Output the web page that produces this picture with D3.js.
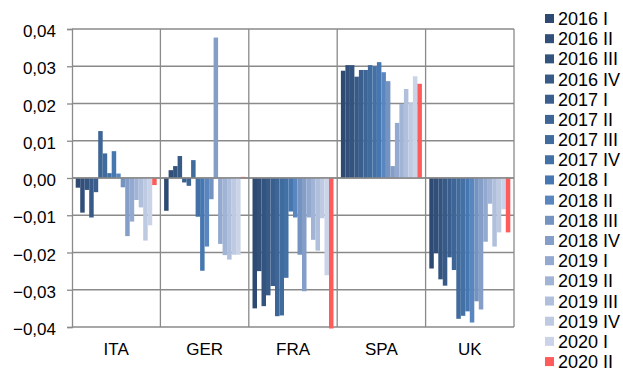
<!DOCTYPE html>
<html><head><meta charset="utf-8">
<script src="https://cdn.jsdelivr.net/npm/d3@7"></script>
<style>body{margin:0;background:#fff}svg{display:block}text{font-family:"Liberation Sans",Arial,sans-serif;fill:#000}</style>
</head><body><svg id="c" width="623" height="371"></svg>
<script>
const categories = ["ITA","GER","FRA","SPA","UK"];
const seriesNames = ["2016 I","2016 II","2016 III","2016 IV","2017 I","2017 II","2017 III","2017 IV","2018 I","2018 II","2018 III","2018 IV","2019 I","2019 II","2019 III","2019 IV","2020 I","2020 II"];
const seriesColors = ["#2e4a72","#314f79","#345480","#375a87","#3a5f8e","#3d6595","#406b9d","#4371a6","#4777b0","#5a86c0","#7593c1","#849ec8","#93a9cf","#a2b4d6","#b0bfdc","#bec9e2","#cbd3e8","#ff5b5b"];
const ITA = [-0.0026,-0.0093,-0.0032,-0.0106,-0.0038,0.0126,0.0066,0.0013,0.0072,0.0012,-0.0025,-0.0156,-0.0117,-0.0059,-0.0079,-0.0168,-0.0127,-0.0019];
const GER = [-0.0088,0.0021,0.0032,0.0059,-0.0012,-0.0021,0.0048,-0.0104,-0.0249,-0.0184,-0.0057,0.0377,-0.0177,-0.0207,-0.0219,-0.0206,-0.0206,0.0003];
const FRA = [-0.0350,-0.0250,-0.0344,-0.0315,-0.0290,-0.0371,-0.0369,-0.0268,-0.0090,-0.0106,-0.0206,-0.0304,-0.0106,-0.0166,-0.0195,-0.0108,-0.0261,-0.0404];
const SPA = [0.0288,0.0303,0.0303,0.0272,0.0290,0.0290,0.0303,0.0300,0.0311,0.0284,0.0260,0.0032,0.0148,0.0199,0.0239,0.0203,0.0273,0.0253];
const UK = [-0.0243,-0.0202,-0.0272,-0.0289,-0.0213,-0.0247,-0.0378,-0.0370,-0.0358,-0.0388,-0.0331,-0.0353,-0.0171,-0.0069,-0.0184,-0.0146,-0.0084,-0.0146];
const yTicks = [-0.04,-0.03,-0.02,-0.01,0,0.01,0.02,0.03,0.04];
const values = {ITA, GER, FRA, SPA, UK};

const svg = d3.select("#c");
const L = 72, R = 514, T = 29, B = 327;
const x0 = d3.scaleBand().domain(categories).range([L, R]).paddingInner(0).paddingOuter(0);
const x1 = d3.scaleBand().domain(seriesNames).range([3.7, x0.bandwidth() - 3.7]).padding(0);
const y = d3.scaleLinear().domain([-0.04, 0.04]).range([B, T]);
const fmt = v => d3.format(".2f")(v).replace(".", ",");
const gridColor = "#8a8a8a";

// horizontal gridlines
svg.append("g").selectAll("line").data(yTicks).join("line")
  .attr("x1", L).attr("x2", R).attr("y1", d => y(d)).attr("y2", d => y(d))
  .attr("stroke", gridColor).attr("stroke-width", 1.3);
// vertical separators
svg.append("g").selectAll("line").data(categories.slice(1).concat(["_end"])).join("line")
  .attr("x1", (d,i) => i < categories.length - 1 ? x0(d) : R)
  .attr("x2", (d,i) => i < categories.length - 1 ? x0(d) : R)
  .attr("y1", T).attr("y2", B).attr("stroke", gridColor).attr("stroke-width", 1.3);

// bars
const g = svg.append("g");
categories.forEach(cat => {
  g.append("g").attr("transform", `translate(${x0(cat)},0)`)
    .selectAll("rect").data(values[cat].map((v,i) => ({v, s: seriesNames[i], c: seriesColors[i]})))
    .join("rect")
    .attr("x", d => x1(d.s)).attr("width", x1.bandwidth())
    .attr("y", d => y(Math.max(0, d.v))).attr("height", d => Math.abs(y(d.v) - y(0)))
    .attr("fill", d => d.c);
});
// zero line on top
svg.append("line").attr("x1", L).attr("x2", R).attr("y1", y(0)).attr("y2", y(0))
  .attr("stroke", gridColor).attr("stroke-width", 1.3);

// y axis
const yAxis = d3.axisLeft(y).tickValues(yTicks).tickSize(5).tickPadding(11).tickFormat(fmt);
const ya = svg.append("g").attr("transform", `translate(${L},0)`).call(yAxis);
ya.select(".domain").attr("stroke", gridColor).attr("stroke-width", 1.3);
ya.selectAll(".tick line").attr("stroke", gridColor).attr("stroke-width", 1.3);
ya.selectAll(".tick text").style("font-size", "17px").attr("font-family", null).attr("dy", "0.45em");

// x category labels
const xAxis = d3.axisBottom(x0).tickSize(0).tickPadding(0);
const xa = svg.append("g").attr("transform", `translate(0,${B})`).call(xAxis);
xa.select(".domain").remove();
xa.selectAll(".tick text").style("font-size", "17px").attr("font-family", null).attr("dy", null).attr("y", 28);

// legend
const leg = svg.append("g").attr("transform", "translate(545,0)");
const li = leg.selectAll("g").data(seriesNames).join("g")
  .attr("transform", (d,i) => `translate(0,${18.5 + i * 20.18})`);
li.append("rect").attr("x", 0).attr("y", -4.5).attr("width", 9).attr("height", 9)
  .attr("fill", (d,i) => seriesColors[i]);
li.append("text").attr("x", 13).attr("dy", "0.36em").style("font-size", "18px").text(d => d);
</script></body></html>
